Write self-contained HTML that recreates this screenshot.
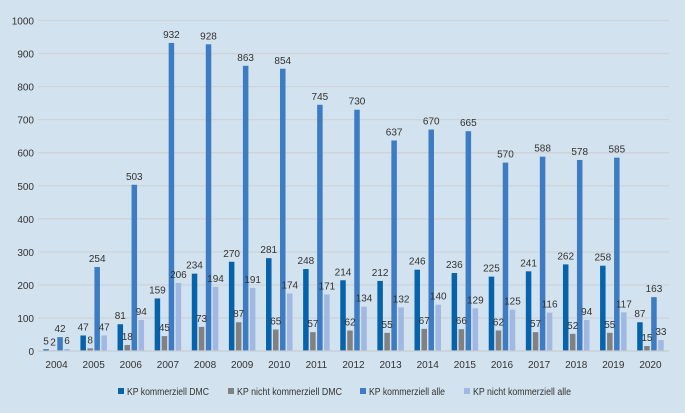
<!DOCTYPE html>
<html><head><meta charset="utf-8"><style>
html,body{margin:0;padding:0;background:#d2e2ee;}
svg{display:block;font-family:"Liberation Sans",sans-serif;}
</style></head><body>
<svg id="chart" width="685" height="413" viewBox="0 0 685 413" xmlns="http://www.w3.org/2000/svg">
<rect x="0" y="0" width="685" height="413" fill="#d2e2ee"/>
<g id="grid"></g><g id="bars"></g><g id="labels"></g><g id="axes"></g>
<g id="legend"></g>
</svg>
<script>
const categories=["2004","2005","2006","2007","2008","2009","2010","2011","2012","2013","2014","2015","2016","2017","2018","2019","2020"];
const dmc=[5,47,81,159,234,270,281,248,214,212,246,236,225,241,262,258,87];
const nichtDmc=[2,8,18,45,73,87,65,57,62,55,67,66,62,57,52,55,15];
const alle=[42,254,503,932,928,863,854,745,730,637,670,665,570,588,578,585,163];
const nichtAlle=[6,47,94,206,194,191,174,171,134,132,140,129,125,116,94,117,33];
const yTicks=[0,100,200,300,400,500,600,700,800,900,1000];
const seriesNames=["KP kommerziell DMC","KP nicht kommerziell DMC","KP kommerziell alle","KP nicht kommerziell alle"];
const seriesData=[dmc,nichtDmc,alle,nichtAlle];
const colors=["#0563ac","#818181","#3d7cc2","#a0b8e2"];
const NS="http://www.w3.org/2000/svg";
const x0=38,x1=669,y0=351,yTop=20.5,ymax=1000;
const bw=(x1-x0)/categories.length;
function y(v){return y0-(v/ymax)*(y0-yTop);}
function xc(i){return x0+bw*(i+0.5);}
function mk(tag,attrs,parent){const e=document.createElementNS(NS,tag);for(const k in attrs)e.setAttribute(k,attrs[k]);parent.appendChild(e);return e;}
const grid=document.getElementById('grid'),bars=document.getElementById('bars'),labels=document.getElementById('labels'),axes=document.getElementById('axes'),legend=document.getElementById('legend');
yTicks.forEach(t=>{
  if(t>0){const l=mk('line',{x1:x0,x2:x1,y1:y(t),y2:y(t),stroke:'#cfd3d8','stroke-width':1.3},grid);
  
  }
  const tx=mk('text',{x:34,y:y(t)+4,'text-anchor':'end','font-size':10,fill:'#333'},axes);
  tx.textContent=t;
  
  
});
const ax=mk('line',{x1:x0,x2:x1,y1:y0,y2:y0,stroke:'#c8ccd2','stroke-width':1.3},axes);


const w=5.5,step=7;
categories.forEach((c,i)=>{
  const cx=xc(i);
  const tx=mk('text',{x:cx,y:y0+17,'text-anchor':'middle','font-size':10,fill:'#333'},axes);
  tx.textContent=c;
  
  
  seriesData.forEach((s,j)=>{
    const bx=cx-13.25+j*step;
    const r=mk('rect',{x:bx,y:y(s[i]),width:w,height:y0-y(s[i]),fill:colors[j]},bars);
    
    
    const lt=mk('text',{x:bx+w/2,y:y(s[i])-5,'text-anchor':'middle','font-size':10,fill:'#333'},labels);
    lt.textContent=s[i];
    
    
  });
});
const lx=[118,228,360,464];
const lw=[82,105,76,98];
seriesNames.forEach((n,j)=>{
  const g=mk('g',{},legend);
  
  
  mk('rect',{x:lx[j],y:388,width:6,height:6,fill:colors[j]},g);
  const t=mk('text',{x:lx[j]+9,y:395,'font-size':10,fill:'#333',textLength:lw[j],lengthAdjust:'spacingAndGlyphs'},g);
  t.textContent=n;
});
</script>
</body></html>
